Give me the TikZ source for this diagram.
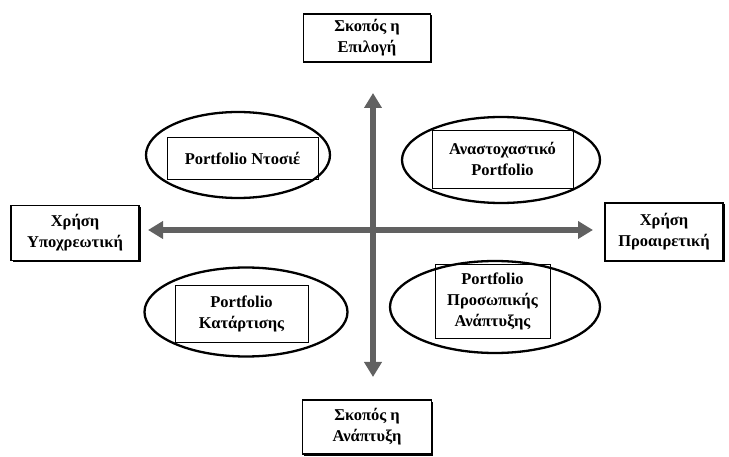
\documentclass[tikz,border=0pt]{standalone}
\usepackage{fontspec}
\setmainfont{Liberation Serif}
\usetikzlibrary{shapes.geometric,shadows,arrows.meta}

\tikzset{
	endbox/.style={draw=black,line width=1.8pt,fill=white,align=center,inner sep=0pt,
		font=\bfseries\fontsize{16.5}{21}\selectfont,
		general shadow={fill=black,shadow xshift=1.5pt,shadow yshift=-1.5pt}},
	oval/.style={ellipse,draw=black,line width=2.3pt,inner sep=0pt},
	pfbox/.style={draw=black,line width=0.7pt,align=center,inner sep=0pt,
		font=\bfseries\fontsize{16.5}{21}\selectfont},
	axis/.style={line width=6pt,black!62,
		{Triangle[length=15pt,width=17pt]}-{Triangle[length=15pt,width=17pt]}}
}

\begin{document}
\begin{tikzpicture}[x=1pt,y=-1pt]
\useasboundingbox (0,0) rectangle (729,457);
%Gitter
%\draw[step=50,very thin,black!20] (0,0) grid (729,457);
\node[endbox,minimum width=127,minimum height=48] (goalsel) at (367,38) {Σκοπός η\\Επιλογή};
\node[endbox,minimum width=129,minimum height=54] (goaldev) at (367,427) {Σκοπός η\\Ανάπτυξη};
\node[endbox,minimum width=128,minimum height=55] (usecomp) at (75,233) {Χρήση\\Υποχρεωτική};
\node[endbox,minimum width=118,minimum height=58] (useopt) at (664,232) {Χρήση\\Προαιρετική};
\node[oval,minimum width=184,minimum height=86] (ovalNW) at (238,155) {};
\node[oval,minimum width=198,minimum height=86] (ovalNE) at (501,160) {};
\node[oval,minimum width=203,minimum height=89] (ovalSW) at (246,312) {};
\node[oval,minimum width=210,minimum height=92] (ovalSE) at (495,307) {};
\node[pfbox,minimum width=151,minimum height=42] (pfNW) at (242.5,158) {Portfolio Ντοσιέ};
\node[pfbox,minimum width=141,minimum height=58] (pfNE) at (502.5,159) {Αναστοχαστικό\\Portfolio};
\node[pfbox,minimum width=133,minimum height=57] (pfSW) at (241.5,313.5) {Portfolio\\Κατάρτισης};
\node[pfbox,minimum width=115,minimum height=74] (pfSE) at (492.5,301) {Portfolio\\Προσωπικής\\Ανάπτυξης};
\coordinate (hl) at (148,230);
\coordinate (hr) at (593,230);
\coordinate (vt) at (373,93);
\coordinate (vb) at (373,377);
\draw[axis] (hl) -- (hr);
\draw[axis] (vt) -- (vb);
\end{tikzpicture}
\end{document}
